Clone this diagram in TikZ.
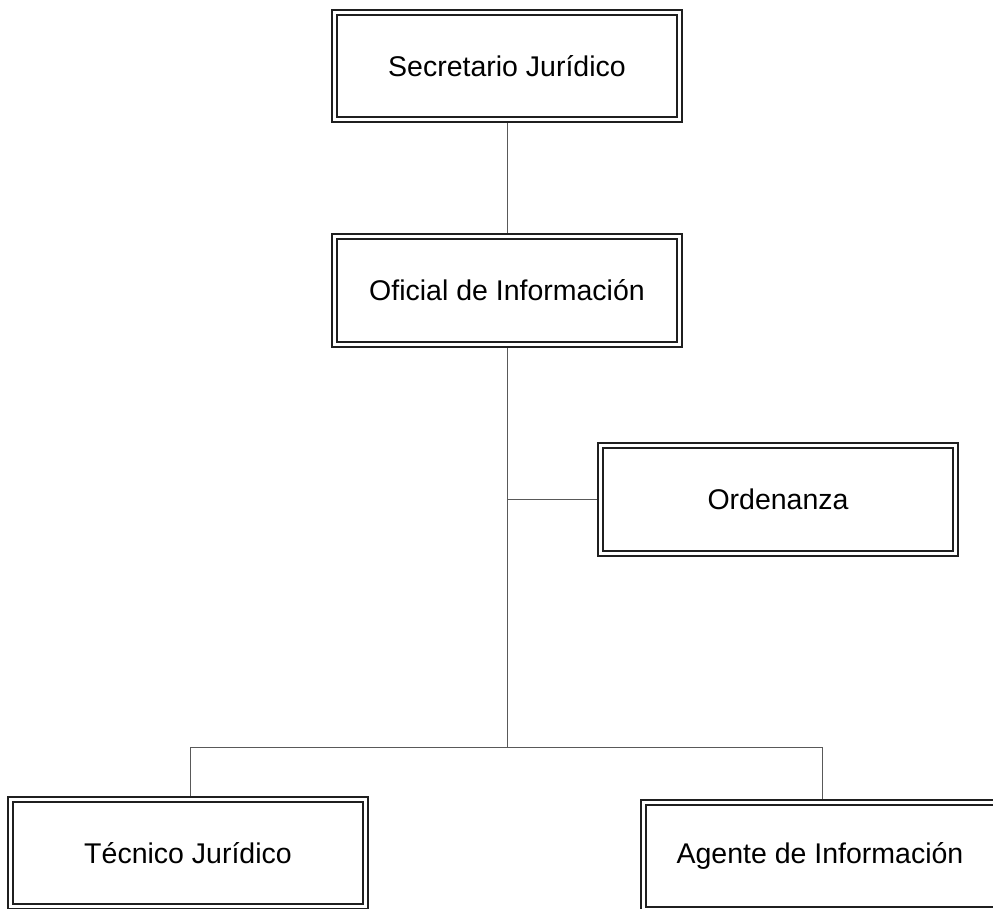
\documentclass[tikz,border=0pt]{standalone}
\usepackage{fontspec}
\setmainfont{Liberation Sans}
\usetikzlibrary{backgrounds}
\begin{document}
\begin{tikzpicture}[x=1pt,y=1pt,
  dbox/.style={draw=black!88, double=white, double distance=3.6pt, line width=1.6pt,
    fill=white, rectangle, inner sep=0pt, font=\fontsize{28.5}{32}\selectfont},
  conn/.style={draw=black!65, line width=1pt}]
\useasboundingbox (0,0) rectangle (993,-909);
\node[dbox, minimum width=345.2pt, minimum height=107.2pt] (sec) at (507,-66) {Secretario Jurídico};
\node[dbox, minimum width=345.2pt, minimum height=108.2pt] (ofi) at (507,-290.5) {Oficial de Información};
\node[dbox, minimum width=355.2pt, minimum height=108.2pt] (ord) at (778,-499.5) {Ordenanza};
\node[dbox, minimum width=355.2pt, minimum height=107.2pt] (tec) at (188,-853) {Técnico Jurídico};
\node[dbox, minimum width=353.2pt, minimum height=107.2pt] (age) at (820,-856) {Agente de Información};
\coordinate (jx) at (507,0);
\coordinate (bus) at (507,-747);
\coordinate (ltap) at (190,-747);
\coordinate (rtap) at (822,-747);
\begin{scope}[on background layer]
\draw[conn] (sec.south -| jx) -- (ofi.north -| jx);
\draw[conn] (ofi.south -| jx) -- (bus);
\draw[conn] (jx |- ord.west) -- (ord.west);
\draw[conn] (ltap) -- (rtap);
\draw[conn] (ltap) -- (ltap |- tec.north);
\draw[conn] (rtap) -- (rtap |- age.north);
\end{scope}
\end{tikzpicture}
\end{document}
